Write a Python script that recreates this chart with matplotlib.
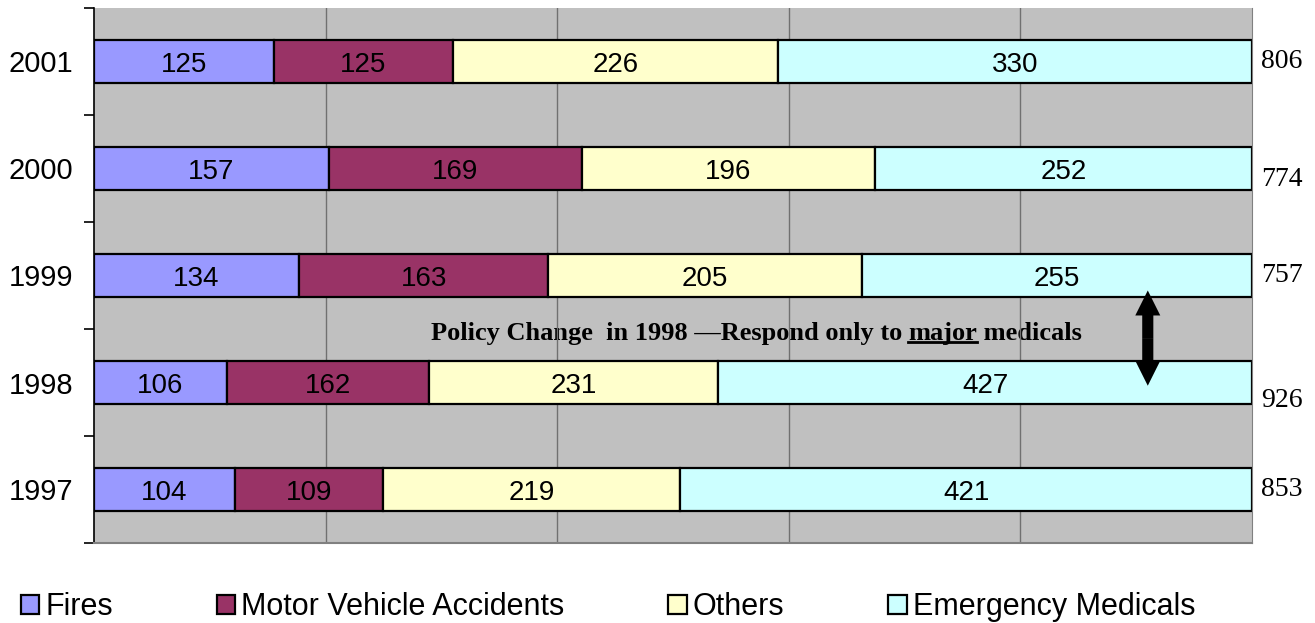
import matplotlib.pyplot as plt
import numpy as np

years = ['1997', '1998', '1999', '2000', '2001']
fires = [104, 106, 134, 157, 125]
mva = [109, 162, 163, 169, 125]
others = [219, 231, 205, 196, 226]
medicals = [421, 427, 255, 252, 330]
series_names = ['Fires', 'Motor Vehicle Accidents', 'Others', 'Emergency Medicals']
colors = ['#9999FF', '#993366', '#FFFFCC', '#CCFFFF']

# totals sit a bit off-centre for some years in the original
total_offset = [0.0, -0.17, 0.0, -0.1, 0.0]

data = np.array([fires, mva, others, medicals], dtype=float)
totals = data.sum(axis=0)
pct = data / totals * 100

fig = plt.figure(figsize=(13.15, 6.23), dpi=100)
ax = fig.add_axes([94 / 1315, 80 / 623, 1158 / 1315, 535 / 623])
ax.set_facecolor('#C0C0C0')

y = np.arange(len(years))
left = np.zeros(len(years))
for i in range(4):
    bars = ax.barh(y, pct[i], left=left, height=0.4, color=colors[i],
                   edgecolor='black', linewidth=1.6, label=series_names[i], zorder=2)
    for j, b in enumerate(bars):
        ax.annotate(str(int(data[i][j])), (left[j] + pct[i][j] / 2, y[j]),
                    xytext=(0, -2.5), textcoords='offset points',
                    ha='center', va='center', fontsize=20, family='Liberation Sans', zorder=3)
    left += pct[i]

ax.set_xlim(0, 100)
ax.set_ylim(-0.5, len(years) - 0.5)
ax.set_xticks([20, 40, 60, 80])
ax.set_xticklabels([])
ax.tick_params(axis='x', length=0)
ax.grid(axis='x', color='#707070', linewidth=1.0)
ax.set_axisbelow(True)

ax.set_yticks(y)
ax.set_yticklabels(years, fontsize=21, family='Liberation Sans')
ax.set_yticks(np.arange(-0.5, len(years)), minor=True)
ax.tick_params(axis='y', which='major', length=0, pad=15)
ax.tick_params(axis='y', which='minor', length=7, width=1.2, direction='out')

ax.spines['top'].set_visible(False)
ax.spines['left'].set_color('black')
ax.spines['left'].set_linewidth(1.2)
ax.spines['right'].set_color('#808080')
ax.spines['bottom'].set_color('#808080')
ax.spines['bottom'].set_linewidth(1.5)

for j in range(len(years)):
    ax.text(100.8, y[j] + total_offset[j], str(int(totals[j])), ha='left', va='center',
            fontsize=20, family='Liberation Serif', clip_on=False)

# policy annotation, with "major" underlined
parts = ['Policy Change  in 1998 \u2014Respond only to ', 'major', ' medicals']
fig.canvas.draw()
r = fig.canvas.get_renderer()
tx = [ax.text(0, 1.46, p, fontsize=19, family='Liberation Serif', weight='bold',
              ha='left', va='center', zorder=0.3) for p in parts]
widths = [t.get_window_extent(r).width for t in tx]
px_per_unit = ax.transData.transform((1, 0))[0] - ax.transData.transform((0, 0))[0]
x0 = 57.2 - sum(widths) / 2 / px_per_unit
pos = x0
for t, w in zip(tx, widths):
    t.set_x(pos)
    pos += w / px_per_unit
fig.canvas.draw()
bb = tx[1].get_window_extent(r)
inv = ax.transData.inverted()
(ux0, uy), (ux1, _) = inv.transform([(bb.x0, bb.y0 + 3), (bb.x1, bb.y0 + 3)])
ax.plot([ux0, ux1], [uy, uy], color='black', linewidth=2, zorder=0.3)

# double arrow: two solid arrows pointing away from the middle
mid = (0.97 + 1.86) / 2
for end in (0.97, 1.86):
    ax.annotate('', xy=(91, end), xytext=(91, mid),
                arrowprops=dict(width=8, headwidth=18, headlength=18,
                                facecolor='black', edgecolor='black', lw=0, shrink=0),
                zorder=4)

handles, labels = ax.get_legend_handles_labels()
leg = fig.legend(handles, labels, loc='center left', bbox_to_anchor=(-0.005, 0.025),
                 ncol=4, frameon=False, handlelength=0.6, handleheight=0.6,
                 handletextpad=0.2, columnspacing=3.4, prop={'family': 'Liberation Sans', 'size': 22})

fig.savefig('out.png', dpi=100)
